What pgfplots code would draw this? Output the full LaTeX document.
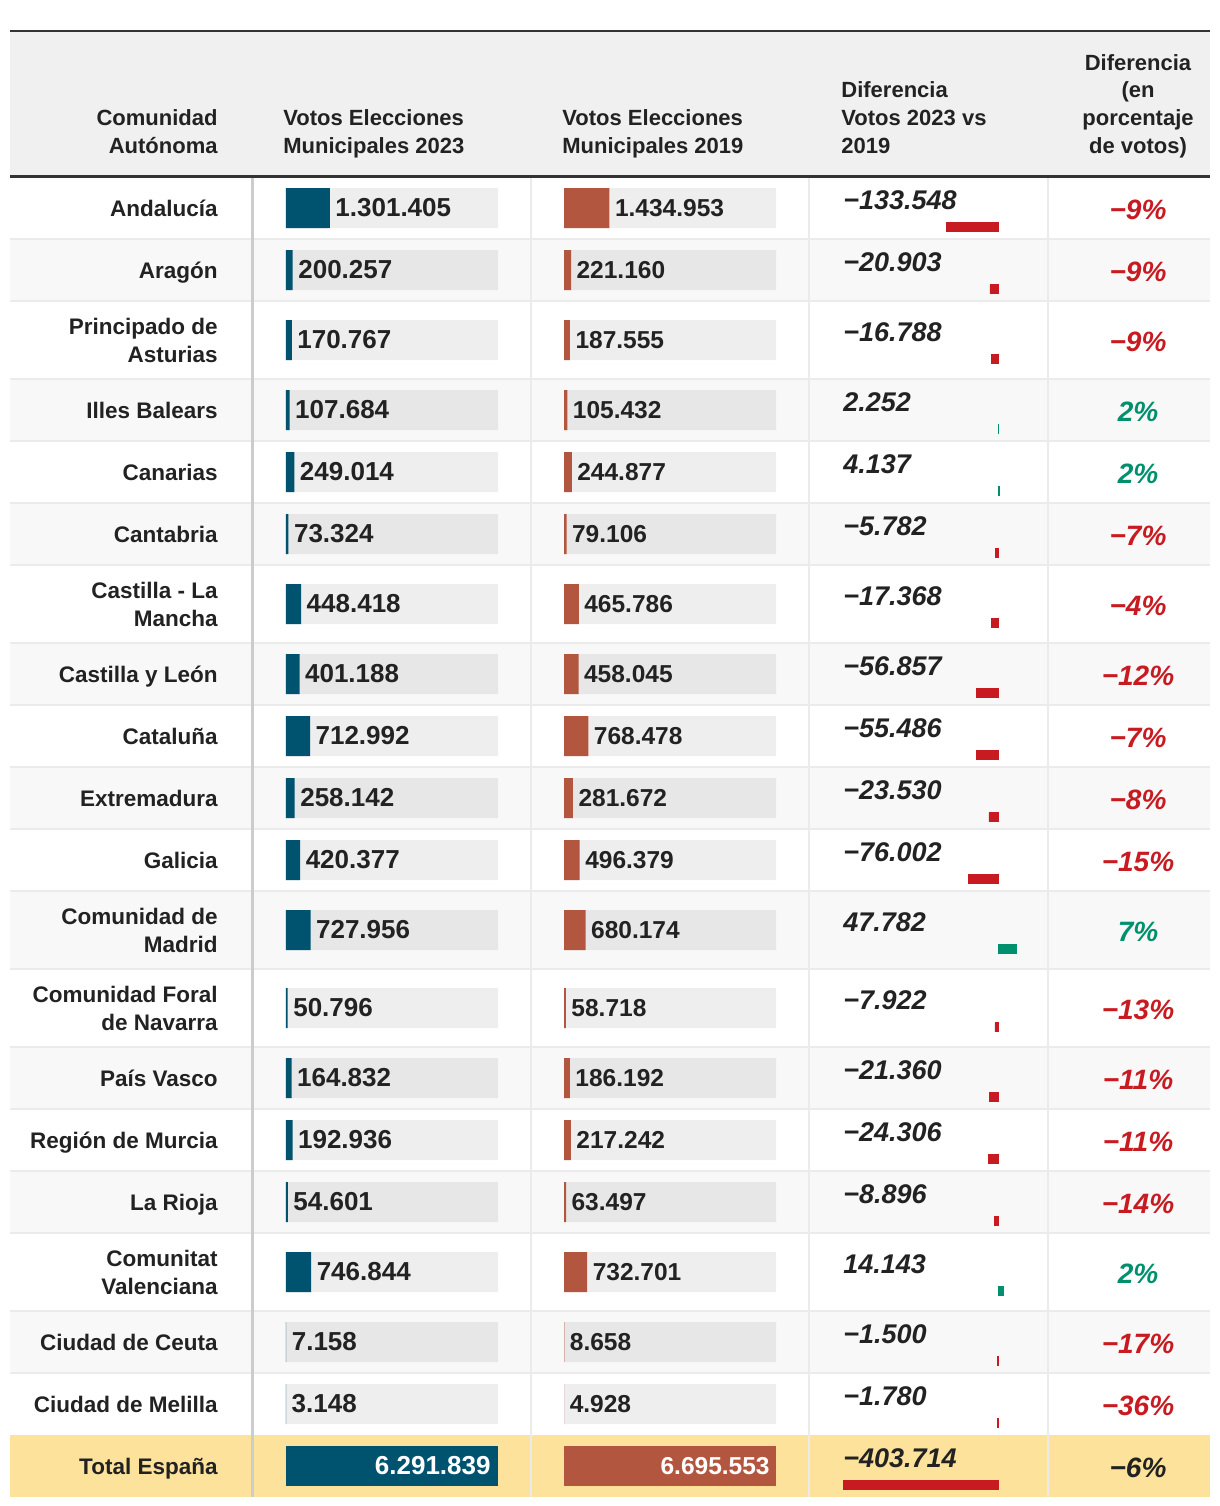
\documentclass[border=0pt]{standalone}
\usepackage{fontspec}
\setmainfont{Liberation Sans}
\usepackage{pgfplots}
\usepackage{pgfplotstable}
\pgfplotsset{compat=1.18}
\definecolor{c23}{HTML}{00536F}
\definecolor{c19}{HTML}{B3563F}
\definecolor{cneg}{HTML}{C81B21}
\definecolor{cpos}{HTML}{00906E}
\definecolor{txt}{HTML}{222222}
\definecolor{hdr}{HTML}{F0F0F0}
\definecolor{alt}{HTML}{F8F8F8}
\definecolor{totc}{HTML}{FDE29B}
\definecolor{sep}{HTML}{EBEBEB}
\definecolor{sepb}{HTML}{CCCCCC}
\definecolor{rulec}{HTML}{333333}

\pgfplotstableread[col sep=semicolon]{
yc;v23;v19;d;l23;l19;dl;pl;neg;tot
208;1301405;1434953;-133548;1.301.405;1.434.953;−133.548;−9\%;1;0
270;200257;221160;-20903;200.257;221.160;−20.903;−9\%;1;0
340;170767;187555;-16788;170.767;187.555;−16.788;−9\%;1;0
410;107684;105432;2252;107.684;105.432;2.252;2\%;0;0
472;249014;244877;4137;249.014;244.877;4.137;2\%;0;0
534;73324;79106;-5782;73.324;79.106;−5.782;−7\%;1;0
604;448418;465786;-17368;448.418;465.786;−17.368;−4\%;1;0
674;401188;458045;-56857;401.188;458.045;−56.857;−12\%;1;0
736;712992;768478;-55486;712.992;768.478;−55.486;−7\%;1;0
798;258142;281672;-23530;258.142;281.672;−23.530;−8\%;1;0
860;420377;496379;-76002;420.377;496.379;−76.002;−15\%;1;0
930;727956;680174;47782;727.956;680.174;47.782;7\%;0;0
1008;50796;58718;-7922;50.796;58.718;−7.922;−13\%;1;0
1078;164832;186192;-21360;164.832;186.192;−21.360;−11\%;1;0
1140;192936;217242;-24306;192.936;217.242;−24.306;−11\%;1;0
1202;54601;63497;-8896;54.601;63.497;−8.896;−14\%;1;0
1272;746844;732701;14143;746.844;732.701;14.143;2\%;0;0
1342;7158;8658;-1500;7.158;8.658;−1.500;−17\%;1;0
1404;3148;4928;-1780;3.148;4.928;−1.780;−36\%;1;0
1466;6291839;6695553;-403714;6.291.839;6.695.553;−403.714;−6\%;1;1
}\datatable

\newcommand{\hfont}{\fontsize{11}{13}\selectfont\bfseries\color{txt}}

\begin{document}
\begin{tikzpicture}
\useasboundingbox (0,0) rectangle (610pt,753pt);
% ---------------- main pixel axis: table structure and texts
\begin{axis}[at={(0pt,0pt)}, anchor=south west, width=610pt, height=753pt,
  scale only axis, xmin=0, xmax=1220, ymin=0, ymax=1506, y dir=reverse,
  hide axis, clip=false]
 \fill[hdr] (axis cs:10,31) rectangle (axis cs:1210,177);
 \fill[alt] (axis cs:10,239) rectangle (axis cs:1210,301);
 \fill[alt] (axis cs:10,379) rectangle (axis cs:1210,441);
 \fill[alt] (axis cs:10,503) rectangle (axis cs:1210,565);
 \fill[alt] (axis cs:10,643) rectangle (axis cs:1210,705);
 \fill[alt] (axis cs:10,767) rectangle (axis cs:1210,829);
 \fill[alt] (axis cs:10,891) rectangle (axis cs:1210,969);
 \fill[alt] (axis cs:10,1047) rectangle (axis cs:1210,1109);
 \fill[alt] (axis cs:10,1171) rectangle (axis cs:1210,1233);
 \fill[alt] (axis cs:10,1311) rectangle (axis cs:1210,1373);
 \fill[totc] (axis cs:10,1435) rectangle (axis cs:1210,1497);
 \pgfplotsinvokeforeach{239,301,379,441,503,565,643,705,767,829,891,969,1047,1109,1171,1233,1311,1373}{
   \draw[sep, line width=1pt] (axis cs:10,#1) -- (axis cs:1210,#1);
 }
 \pgfplotsinvokeforeach{531,809,1048}{
   \draw[sep, line width=1pt] (axis cs:#1,177) -- (axis cs:#1,1497);
 }
 \draw[sepb, line width=1.5pt] (axis cs:252,177) -- (axis cs:252,1497);
 \draw[rulec, line width=1pt] (axis cs:10,31) -- (axis cs:1210,31);
 \draw[rulec, line width=1.5pt] (axis cs:10,176.5) -- (axis cs:1210,176.5);
 % header
 \node[anchor=base east, inner sep=0pt, font=\hfont] at (axis cs:218,125.3) {Comunidad};
 \node[anchor=base east, inner sep=0pt, font=\hfont] at (axis cs:218,153) {Autónoma};
 \node[anchor=base west, inner sep=0pt, font=\hfont] at (axis cs:283,125.3) {Votos Elecciones};
 \node[anchor=base west, inner sep=0pt, font=\hfont] at (axis cs:283,153) {Municipales 2023};
 \node[anchor=base west, inner sep=0pt, font=\hfont] at (axis cs:562,125.3) {Votos Elecciones};
 \node[anchor=base west, inner sep=0pt, font=\hfont] at (axis cs:562,153) {Municipales 2019};
 \node[anchor=base west, inner sep=0pt, font=\hfont] at (axis cs:841,97.6) {Diferencia};
 \node[anchor=base west, inner sep=0pt, font=\hfont] at (axis cs:841,125.3) {Votos 2023 vs};
 \node[anchor=base west, inner sep=0pt, font=\hfont] at (axis cs:841,153) {2019};
 \node[anchor=base, inner sep=0pt, font=\hfont] at (axis cs:1138,70) {Diferencia};
 \node[anchor=base, inner sep=0pt, font=\hfont] at (axis cs:1138,97.6) {(en};
 \node[anchor=base, inner sep=0pt, font=\hfont] at (axis cs:1138,125.3) {porcentaje};
 \node[anchor=base, inner sep=0pt, font=\hfont] at (axis cs:1138,153) {de votos)};
 % difference numbers
 \addplot[draw=none, mark=none, point meta=explicit symbolic, nodes near coords,
   nodes near coords style={font=\fontsize{13.5}{15}\selectfont\bfseries\itshape, text=txt, anchor=base west, inner sep=0pt}]
   table[x expr=843, y expr=\thisrow{yc}+1.5, meta=dl]{\datatable};
 % percentages
 \addplot[draw=none, mark=none, point meta=explicit symbolic, nodes near coords,
   restrict expr to domain={\thisrow{neg}-\thisrow{tot}}{0.5:1.5},
   nodes near coords style={font=\fontsize{14}{16}\selectfont\bfseries\itshape, text=cneg, anchor=base, inner sep=0pt}]
   table[x expr=1138, y expr=\thisrow{yc}+11, meta=pl]{\datatable};
 \addplot[draw=none, mark=none, point meta=explicit symbolic, nodes near coords,
   restrict expr to domain={\thisrow{neg}+\thisrow{tot}}{-0.5:0.5},
   nodes near coords style={font=\fontsize{14}{16}\selectfont\bfseries\itshape, text=cpos, anchor=base, inner sep=0pt}]
   table[x expr=1138, y expr=\thisrow{yc}+11, meta=pl]{\datatable};
 \addplot[draw=none, mark=none, point meta=explicit symbolic, nodes near coords,
   restrict expr to domain={\thisrow{tot}}{0.5:1.5},
   nodes near coords style={font=\fontsize{14}{16}\selectfont\bfseries\itshape, text=txt, anchor=base, inner sep=0pt}]
   table[x expr=1138, y expr=\thisrow{yc}+11, meta=pl]{\datatable};
\end{axis}

% ---------------- 2023 votes (with row names as tick labels)
\begin{axis}[at={(143pt,0pt)}, anchor=south west, width=106pt, height=753pt,
  scale only axis, xmin=0, xmax=6291839, ymin=0, ymax=1506, y dir=reverse,
  axis line style={draw=none}, xtick=\empty, major tick length=0pt,
  ytick={208,270,340,410,472,534,604,674,736,798,860,930,1008,1078,1140,1202,1272,1342,1404,1466},
  yticklabels={Andalucía, Aragón, {Principado de\\Asturias}, Illes Balears, Canarias, Cantabria,
    {Castilla - La\\Mancha}, Castilla y León, Cataluña, Extremadura, Galicia, {Comunidad de\\Madrid},
    {Comunidad Foral\\de Navarra}, País Vasco, Región de Murcia, La Rioja, {Comunitat\\Valenciana},
    Ciudad de Ceuta, Ciudad de Melilla, Total España},
  yticklabel style={font=\fontsize{11.25}{14}\selectfont\bfseries, text=txt, align=right, anchor=east, inner sep=0pt, text depth=0pt, xshift=-34pt},
  clip=false]
 \addplot[xbar, bar shift=0pt, bar width=40, draw=none, fill=black, fill opacity=0.065]
   table[x expr=6291839, y=yc]{\datatable};
 \addplot[xbar, bar shift=0pt, bar width=40, draw=none, fill=c23,
   restrict expr to domain={\thisrow{tot}}{-0.5:0.5},
   point meta=explicit symbolic, nodes near coords,
   nodes near coords style={font=\fontsize{13}{15}\selectfont\bfseries, text=txt, anchor=west, inner sep=2.6pt}]
   table[x=v23, y=yc, meta=l23]{\datatable};
 \addplot[xbar, bar shift=0pt, bar width=40, draw=none, fill=c23,
   restrict expr to domain={\thisrow{tot}}{0.5:1.5},
   point meta=explicit symbolic, nodes near coords,
   nodes near coords style={font=\fontsize{13}{15}\selectfont\bfseries, text=white, anchor=east, inner sep=0pt, xshift=-3.5pt}]
   table[x=v23, y=yc, meta=l23]{\datatable};
\end{axis}

% ---------------- 2019 votes
\begin{axis}[at={(282pt,0pt)}, anchor=south west, width=106pt, height=753pt,
  scale only axis, xmin=0, xmax=6695553, ymin=0, ymax=1506, y dir=reverse,
  hide axis, clip=false]
 \addplot[xbar, bar shift=0pt, bar width=40, draw=none, fill=black, fill opacity=0.065]
   table[x expr=6695553, y=yc]{\datatable};
 \addplot[xbar, bar shift=0pt, bar width=40, draw=none, fill=c19,
   restrict expr to domain={\thisrow{tot}}{-0.5:0.5},
   point meta=explicit symbolic, nodes near coords,
   nodes near coords style={font=\fontsize{12.25}{14}\selectfont\bfseries, text=txt, anchor=west, inner sep=2.6pt}]
   table[x=v19, y=yc, meta=l19]{\datatable};
 \addplot[xbar, bar shift=0pt, bar width=40, draw=none, fill=c19,
   restrict expr to domain={\thisrow{tot}}{0.5:1.5},
   point meta=explicit symbolic, nodes near coords,
   nodes near coords style={font=\fontsize{12.25}{14}\selectfont\bfseries, text=white, anchor=east, inner sep=0pt, xshift=-3pt}]
   table[x=v19, y=yc, meta=l19]{\datatable};
\end{axis}

% ---------------- difference bars
\begin{axis}[at={(421.5pt,0pt)}, anchor=south west, width=100pt, height=753pt,
  scale only axis, xmin=-403714, xmax=117207, ymin=0, ymax=1506, y dir=reverse,
  hide axis, clip=false]
 \addplot[xbar, bar shift=0pt, bar width=9, fill=cneg, draw=cneg, line width=0.4pt,
   restrict expr to domain={\thisrow{neg}}{0.5:1.5}]
   table[x=d, y expr=\thisrow{yc}+19]{\datatable};
 \addplot[xbar, bar shift=0pt, bar width=9, fill=cpos, draw=cpos, line width=0.4pt,
   restrict expr to domain={\thisrow{neg}}{-0.5:0.5}]
   table[x=d, y expr=\thisrow{yc}+19]{\datatable};
\end{axis}
\end{tikzpicture}
\end{document}
